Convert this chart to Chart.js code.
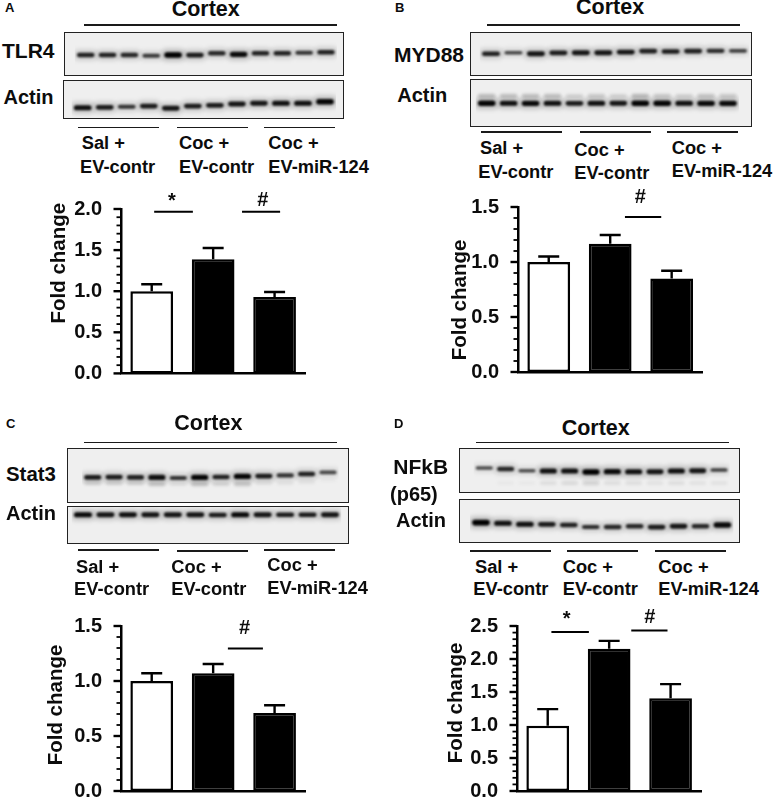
<!DOCTYPE html>
<html>
<head>
<meta charset="utf-8">
<title>Cortex blots and fold change</title>
<script src="https://cdn.jsdelivr.net/npm/chart.js@4/dist/chart.umd.js"></script>
<style>
  html, body { margin: 0; padding: 0; background: #fff; }
  #page { position: relative; width: 777px; height: 801px; overflow: hidden; font-family: "Liberation Sans", Arial, sans-serif; font-weight: bold; color: #0c0c0c; }
  .txt { position: absolute; white-space: nowrap; line-height: 1; }
  .rule { position: absolute; background: #1a1a1a; }
  .blot { position: absolute; background: #efefef; outline: 1.5px solid #222; outline-offset: -1.5px; }
  canvas { position: absolute; left: 0; top: 0; }
</style>
</head>
<body>
<div id="page"></div>
<script>
// Bar values
var groups = ['Sal + EV-contr', 'Coc + EV-contr', 'Coc + EV-miR-124'];
var barColors = ['#ffffff', '#000000', '#000000'];

var tlr4Values = [1.0, 1.39, 0.93];
var tlr4Errors = [1.085, 1.525, 0.99];
var tlr4Ticks = ['0.0', '0.5', '1.0', '1.5', '2.0'];

var myd88Values = [1.0, 1.165, 0.85];
var myd88Errors = [1.05, 1.245, 0.92];
var myd88Ticks = ['0.0', '0.5', '1.0', '1.5'];

var stat3Values = [1.0, 1.07, 0.71];
var stat3Errors = [1.07, 1.155, 0.78];
var stat3Ticks = ['0.0', '0.5', '1.0', '1.5'];

var nfkbValues = [0.99, 2.155, 1.405];
var nfkbErrors = [1.24, 2.275, 1.62];
var nfkbTicks = ['0.0', '0.5', '1.0', '1.5', '2.0', '2.5'];

// Significance marks: span in category units, level in fold change
var tlr4SigFrom = [0.04, 1.47];
var tlr4SigTo = [0.67, 2.09];
var tlr4SigLevel = [1.967, 1.967];
var tlr4SigText = ['*', '#'];
var tlr4SigTextAt = [0.33, 1.81];
var tlr4SigTextLevel = [2.03, 2.04];

var myd88SigFrom = [1.24];
var myd88SigTo = [1.83];
var myd88SigLevel = [1.41];
var myd88SigText = ['#'];
var myd88SigTextAt = [1.49];
var myd88SigTextLevel = [1.54];

var stat3SigFrom = [1.24];
var stat3SigTo = [1.81];
var stat3SigLevel = [1.295];
var stat3SigText = ['#'];
var stat3SigTextAt = [1.51];
var stat3SigTextLevel = [1.425];

var nfkbSigFrom = [0.06, 1.36];
var nfkbSigTo = [0.67, 1.95];
var nfkbSigLevel = [2.41, 2.43];
var nfkbSigText = ['*', '#'];
var nfkbSigTextAt = [0.31, 1.66];
var nfkbSigTextLevel = [2.52, 2.55];

// Blot lanes: band position from top of the frame, and band density
var lanes = ['1', '2', '3', '4', '5', '6', '7', '8', '9', '10', '11', '12'];

var tlr4BandPos = [23, 23, 23, 23.7, 23, 23, 21.3, 22.3, 21.3, 21.3, 20.7, 20.3];
var tlr4BandDensity = [0.7, 0.7, 0.65, 0.5, 1, 0.75, 0.65, 0.9, 0.7, 0.7, 0.55, 0.7];
var actinABandPos = [27.7, 27.3, 26.7, 26, 28.3, 26, 25.3, 24, 23.3, 23.3, 23.3, 21.7];
var actinABandDensity = [0.85, 0.75, 0.55, 0.75, 0.8, 0.75, 0.75, 0.8, 0.8, 0.85, 0.85, 0.95];

var myd88BandPos = [22, 21, 22, 21, 21, 21, 20.3, 19.3, 19.7, 19.3, 19, 19];
var myd88BandDensity = [0.7, 0.4, 0.8, 0.75, 0.8, 0.8, 0.8, 0.7, 0.75, 0.7, 0.6, 0.45];
var actinBBandPos = [24.3, 24.3, 24.3, 24.3, 24.3, 24.3, 24.3, 24.3, 24.3, 24.3, 24.3, 24.3];
var actinBBandDensity = [0.95, 0.85, 0.9, 0.85, 0.75, 0.85, 0.8, 0.95, 0.95, 0.85, 0.9, 0.9];
var actinBGhostPos = [17, 17, 17, 17, 17, 17, 17, 17, 17, 17, 17, 17];
var actinBGhostDensity = [0.2, 0.2, 0.2, 0.2, 0.12, 0.15, 0.12, 0.22, 0.15, 0.12, 0.18, 0.15];

var stat3BandPos = [29.4, 29, 29.4, 29.4, 30, 29.4, 29, 28.4, 28, 27.4, 26, 24.4];
var stat3BandDensity = [0.75, 0.75, 0.7, 0.85, 0.55, 0.95, 0.7, 0.95, 0.75, 0.55, 0.7, 0.4];
var stat3GhostPos = [35, 35, 35, 36, 36, 36, 36, 36, 35, 35, 34, 32];
var stat3GhostDensity = [0.12, 0.12, 0.12, 0.18, 0.06, 0.18, 0.12, 0.18, 0.06, 0.06, 0.06, 0.03];
var actinCBandPos = [9, 9, 9, 9, 9, 9, 9.3, 9, 9, 9, 9, 9];
var actinCBandDensity = [0.9, 0.8, 0.85, 0.8, 0.8, 0.8, 0.75, 0.9, 0.8, 0.75, 0.75, 0.8];

var nfkbBandPos = [20, 21, 22.7, 23, 23, 24, 23.7, 23.7, 23.7, 23, 22.7, 22];
var nfkbBandDensity = [0.35, 0.65, 0.35, 0.85, 0.85, 1, 0.9, 0.85, 0.8, 0.85, 0.8, 0.45];
var nfkbGhostPos = [35, 35, 35, 35, 35, 35, 35, 35, 35, 35, 35, 35];
var nfkbGhostDensity = [0, 0.03, 0.03, 0.08, 0.1, 0.13, 0.08, 0.08, 0.06, 0.08, 0.06, 0.06];
var actinDBandPos = [23.6, 24.3, 25.3, 25.3, 26, 28, 28, 27.3, 28, 27.3, 27.3, 26];
var actinDBandDensity = [1, 0.85, 0.85, 0.75, 0.7, 0.6, 0.65, 0.65, 0.75, 0.8, 0.65, 0.9];

var page = document.getElementById('page');

function addText(text, x, base, size) {
    var el = document.createElement('div');
    el.className = 'txt';
    el.textContent = text;
    el.style.left = x + 'px';
    // line-height 1 with Liberation: baseline sits about 0.85em below the top
    el.style.top = (base - size * 0.85) + 'px';
    el.style.fontSize = size + 'px';
    page.appendChild(el);
}

function addRule(x1, x2, y, h) {
    var el = document.createElement('div');
    el.className = 'rule';
    el.style.left = x1 + 'px';
    el.style.width = (x2 - x1) + 'px';
    el.style.top = (y - h / 2) + 'px';
    el.style.height = h + 'px';
    page.appendChild(el);
}

// Blur the bands while a blot dataset is drawn
var bandBlur = {
    id: 'bandBlur',
    beforeDatasetDraw: function(chart, args) {
        chart.ctx.save();
        chart.ctx.filter = 'blur(' + chart.data.datasets[args.index].blurPx + 'px)';
    },
    afterDatasetDraw: function(chart) {
        chart.ctx.restore();
    }
};

function bandRange(pos, density, base, gain) {
    return pos.map(function(p, i) {
        var t = density[i] > 0 ? base + gain * density[i] : 0;
        return [p - t / 2, p + t / 2];
    });
}

function bandColors(density, alphaBase, alphaGain) {
    return density.map(function(d) {
        return 'rgba(0,0,0,' + (alphaBase + alphaGain * d) + ')';
    });
}

function makeBlot(box, pos, density, ghostPos, ghostDensity) {
    var el = document.createElement('div');
    el.className = 'blot';
    el.style.left = box.x1 + 'px';
    el.style.top = box.y1 + 'px';
    el.style.width = (box.x2 - box.x1) + 'px';
    el.style.height = (box.y2 - box.y1) + 'px';
    var canvas = document.createElement('canvas');
    el.appendChild(canvas);
    page.appendChild(el);

    var w = box.x2 - box.x1;
    var h = box.y2 - box.y1;
    canvas.width = w;
    canvas.height = h;

    var pitch = (box.last - box.first) / 11;
    var datasets = [{
        data: bandRange(pos, density, 2.2, 3.4),
        backgroundColor: bandColors(density, 0.45, 0.55),
        barPercentage: 0.8,
        blurPx: 0.9
    }, {
        data: bandRange(pos, density, 6, 5),
        backgroundColor: bandColors(density, 0.03, 0.2),
        barPercentage: 1,
        blurPx: 2.5
    }];
    if (ghostPos) {
        datasets.push({
            data: bandRange(ghostPos, ghostDensity, 4, 2),
            backgroundColor: bandColors(ghostDensity, 0, 0.9),
            barPercentage: 0.8,
            blurPx: 1.6
        });
    }
    datasets.forEach(function(d) {
        d.grouped = false;
        d.borderSkipped = false;
        d.borderRadius = 4;
        d.categoryPercentage = 1;
    });

    new Chart(canvas, {
        type: 'bar',
        data: { labels: lanes, datasets: datasets },
        options: {
            responsive: false,
            animation: false,
            layout: {
                padding: {
                    left: box.first - pitch / 2 - box.x1,
                    right: box.x2 - box.last - pitch / 2,
                    top: 0,
                    bottom: 0
                }
            },
            plugins: { legend: { display: false }, tooltip: { enabled: false } },
            scales: {
                x: { display: false },
                y: { display: false, min: 0, max: h, reverse: true }
            }
        },
        plugins: [bandBlur]
    });
}

// Minor/major y ticks, error bars, significance marks and the axis title
var figureMarks = {
    id: 'figureMarks',
    afterDatasetsDraw: function(chart, args, o) {
        var ctx = chart.ctx;
        var x = chart.scales.x;
        var y = chart.scales.y;
        ctx.save();
        ctx.strokeStyle = '#000';
        ctx.fillStyle = '#0c0c0c';

        // error bars, upper arm only
        var meta = chart.getDatasetMeta(0);
        ctx.lineWidth = 2.4;
        o.errors.forEach(function(e, i) {
            var bx = meta.data[i].x;
            var top = y.getPixelForValue(e);
            ctx.beginPath();
            ctx.moveTo(bx, y.getPixelForValue(chart.data.datasets[0].data[i]));
            ctx.lineTo(bx, top);
            ctx.moveTo(bx - 10.5, top);
            ctx.lineTo(bx + 10.5, top);
            ctx.stroke();
        });

        // ticks
        y.ticks.forEach(function(t) {
            var major = o.tickLabels.indexOf(t.value.toFixed(1)) >= 0;
            var py = y.getPixelForValue(t.value);
            ctx.lineWidth = major ? 2.4 : 1.8;
            ctx.beginPath();
            ctx.moveTo(y.right, py);
            ctx.lineTo(y.right - (major ? 7.5 : 4.5), py);
            ctx.stroke();
        });

        // significance bars
        ctx.lineWidth = 2;
        o.sigFrom.forEach(function(f, i) {
            var py = y.getPixelForValue(o.sigLevel[i]);
            ctx.beginPath();
            ctx.moveTo(x.getPixelForValue(f), py);
            ctx.lineTo(x.getPixelForValue(o.sigTo[i]), py);
            ctx.stroke();
        });
        ctx.font = 'bold 20px "Liberation Sans"';
        ctx.textAlign = 'center';
        ctx.textBaseline = 'alphabetic';
        o.sigText.forEach(function(s, i) {
            ctx.fillText(s, x.getPixelForValue(o.sigTextAt[i]), y.getPixelForValue(o.sigTextLevel[i]));
        });

        // axis title sits off-centre from the axis, so it is placed by hand
        ctx.translate(o.titleX, o.titleY);
        ctx.rotate(-Math.PI / 2);
        ctx.font = 'bold 20.5px "Liberation Sans"';
        ctx.textBaseline = 'middle';
        ctx.fillText('Fold change', 0, 0);
        ctx.restore();
    }
};

function makeBars(p) {
    var padTop = 22;
    var padBottom = 40;
    var padRight = 12;
    var canvas = document.createElement('canvas');
    canvas.width = Math.round(p.right + padRight - p.left + 80);
    canvas.height = Math.round(p.bottom + padBottom - (p.top - padTop));
    canvas.style.left = (p.left - 80) + 'px';
    canvas.style.top = (p.top - padTop) + 'px';
    page.appendChild(canvas);

    var chart = new Chart(canvas, {
        type: 'bar',
        data: {
            labels: groups,
            datasets: [{
                data: p.values,
                backgroundColor: barColors,
                borderColor: '#000',
                borderWidth: 2.5,
                borderSkipped: false,
                barPercentage: 0.695,
                categoryPercentage: 1
            }]
        },
        options: {
            responsive: false,
            animation: false,
            layout: { padding: { top: padTop, bottom: padBottom, right: padRight, left: 0 } },
            plugins: {
                legend: { display: false },
                tooltip: { enabled: false },
                figureMarks: {
                    errors: p.errors,
                    tickLabels: p.ticks,
                    sigFrom: p.sigFrom,
                    sigTo: p.sigTo,
                    sigLevel: p.sigLevel,
                    sigText: p.sigText,
                    sigTextAt: p.sigTextAt,
                    sigTextLevel: p.sigTextLevel,
                    titleX: p.titleX - (p.left - 80),
                    titleY: p.titleY - (p.top - padTop)
                }
            },
            scales: {
                x: {
                    ticks: { display: false },
                    grid: { display: false },
                    border: { color: '#000', width: 2.5 }
                },
                y: {
                    min: 0,
                    max: parseFloat(p.ticks[p.ticks.length - 1]),
                    grid: { display: false },
                    border: { color: '#000', width: 2.5 },
                    ticks: {
                        stepSize: 0.1,
                        autoSkip: false,
                        padding: 11,
                        color: '#0c0c0c',
                        font: { family: '"Liberation Sans"', size: 20, weight: 'bold' },
                        callback: function(v) {
                            var s = v.toFixed(1);
                            return p.ticks.indexOf(s) >= 0 ? s : '';
                        }
                    },
                    afterFit: function(s) { s.width = 80; }
                }
            }
        },
        plugins: [figureMarks]
    });

    // nudge the padding until the plot area lands where the axes are in the figure
    for (var i = 0; i < 4; i++) {
        var pad = chart.options.layout.padding;
        pad.top += padTop - chart.chartArea.top;
        pad.bottom += chart.chartArea.bottom - (p.bottom - p.top + padTop);
        pad.right += chart.chartArea.right - (p.right - p.left + 80);
        chart.update();
    }
}

// Panel A
addText('A', 5, 12, 13);
addText('Cortex', 171.7, 17.3, 21.5);
addRule(84.3, 337.3, 25, 1.6);
addText('TLR4', 2, 58, 21);
addText('Actin', 3.5, 104, 20);
makeBlot({ x1: 64, x2: 344, y1: 32, y2: 76, first: 85.7, last: 326 }, tlr4BandPos, tlr4BandDensity);
makeBlot({ x1: 63, x2: 344, y1: 80, y2: 119, first: 82.7, last: 325 }, actinABandPos, actinABandDensity);
addRule(78.3, 159.3, 127.7, 1.6);
addRule(177, 248, 127.7, 1.6);
addRule(264, 334.7, 127.7, 1.6);
addText('Sal +', 81.7, 150, 18.3);
addText('Coc +', 179, 150, 18.3);
addText('Coc +', 268.3, 150, 18.3);
addText('EV-contr', 80, 174, 18.3);
addText('EV-contr', 179, 174, 18.3);
addText('EV-miR-124', 268.3, 174, 18.3);
makeBars({
    left: 120.7, right: 305, top: 208.3, bottom: 373.7,
    values: tlr4Values, errors: tlr4Errors, ticks: tlr4Ticks,
    sigFrom: tlr4SigFrom, sigTo: tlr4SigTo, sigLevel: tlr4SigLevel,
    sigText: tlr4SigText, sigTextAt: tlr4SigTextAt, sigTextLevel: tlr4SigTextLevel,
    titleX: 59.5, titleY: 263.5
});

// Panel B
addText('B', 395, 12, 13);
addText('Cortex', 576, 15.7, 21.5);
addRule(487.3, 740, 25, 1.6);
addText('MYD88', 394, 62.3, 21);
addText('Actin', 397.3, 102, 20);
makeBlot({ x1: 470, x2: 752, y1: 32.3, y2: 75.7, first: 491, last: 738 }, myd88BandPos, myd88BandDensity);
makeBlot({ x1: 470, x2: 752, y1: 79, y2: 127, first: 486.7, last: 728 }, actinBBandPos, actinBBandDensity, actinBGhostPos, actinBGhostDensity);
addRule(481.3, 562.3, 132, 1.6);
addRule(580, 650.7, 132, 1.6);
addRule(667, 737.7, 132, 1.6);
addText('Sal +', 480, 155, 18.3);
addText('Coc +', 574.3, 156.7, 18.3);
addText('Coc +', 671.7, 155, 18.3);
addText('EV-contr', 478.3, 178.3, 18.3);
addText('EV-contr', 574.3, 180, 18.3);
addText('EV-miR-124', 671.7, 178, 18.3);
makeBars({
    left: 518.3, right: 702.7, top: 206, bottom: 372,
    values: myd88Values, errors: myd88Errors, ticks: myd88Ticks,
    sigFrom: myd88SigFrom, sigTo: myd88SigTo, sigLevel: myd88SigLevel,
    sigText: myd88SigText, sigTextAt: myd88SigTextAt, sigTextLevel: myd88SigTextLevel,
    titleX: 461, titleY: 300
});

// Panel C
addText('C', 6, 428, 13);
addText('Cortex', 174.3, 431.7, 21.5);
addRule(84.3, 337.3, 442.7, 1.6);
addText('Stat3', 6, 481.7, 20.4);
addText('Actin', 6, 520, 20);
makeBlot({ x1: 67, x2: 349, y1: 448.3, y2: 503.3, first: 92.7, last: 328 }, stat3BandPos, stat3BandDensity, stat3GhostPos, stat3GhostDensity);
makeBlot({ x1: 67, x2: 349, y1: 506.3, y2: 544.3, first: 83, last: 330 }, actinCBandPos, actinCBandDensity);
addRule(78.3, 159.3, 550, 1.6);
addRule(177, 248, 551, 1.6);
addRule(264, 334.7, 550, 1.6);
addText('Sal +', 76, 573.3, 18.3);
addText('Coc +', 171.3, 573.3, 18.3);
addText('Coc +', 267.3, 571.7, 18.3);
addText('EV-contr', 74, 596, 18.3);
addText('EV-contr', 171.3, 596, 18.3);
addText('EV-miR-124', 267.3, 595, 18.3);
makeBars({
    left: 120.7, right: 305, top: 625, bottom: 791,
    values: stat3Values, errors: stat3Errors, ticks: stat3Ticks,
    sigFrom: stat3SigFrom, sigTo: stat3SigTo, sigLevel: stat3SigLevel,
    sigText: stat3SigText, sigTextAt: stat3SigTextAt, sigTextLevel: stat3SigTextLevel,
    titleX: 56, titleY: 705
});

// Panel D
addText('D', 394, 428, 13);
addText('Cortex', 561.7, 436, 21.5);
addRule(475.7, 728.7, 442.7, 1.6);
addText('NFkB', 393.3, 474.3, 21);
addText('(p65)', 390, 500.7, 20);
addText('Actin', 396, 526.7, 20);
makeBlot({ x1: 458.7, x2: 740.3, y1: 448.3, y2: 493.3, first: 484, last: 719.3 }, nfkbBandPos, nfkbBandDensity, nfkbGhostPos, nfkbGhostDensity);
makeBlot({ x1: 458.7, x2: 740.3, y1: 498.7, y2: 542.7, first: 480.7, last: 722.7 }, actinDBandPos, actinDBandDensity);
addRule(470, 550.7, 551, 1.6);
addRule(567, 638, 551, 1.6);
addRule(655.3, 726, 551, 1.6);
addText('Sal +', 475, 573.3, 18.3);
addText('Coc +', 562.7, 573.3, 18.3);
addText('Coc +', 658.3, 573.3, 18.3);
addText('EV-contr', 473.3, 596, 18.3);
addText('EV-contr', 562.7, 596, 18.3);
addText('EV-miR-124', 658.3, 596, 18.3);
makeBars({
    left: 516.7, right: 701, top: 625, bottom: 791,
    values: nfkbValues, errors: nfkbErrors, ticks: nfkbTicks,
    sigFrom: nfkbSigFrom, sigTo: nfkbSigTo, sigLevel: nfkbSigLevel,
    sigText: nfkbSigText, sigTextAt: nfkbSigTextAt, sigTextLevel: nfkbSigTextLevel,
    titleX: 455.7, titleY: 703
});
</script>
</body>
</html>
